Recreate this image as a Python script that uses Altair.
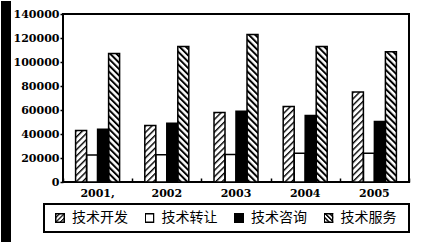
import base64
import altair as alt
import pandas as pd

# ---- data ----
years = ["2001,", "2002", "2003", "2004", "2005"]
series = ["技术开发", "技术转让", "技术咨询", "技术服务"]
dev = [43000, 47000, 58000, 63000, 75000]
transfer = [22500, 22700, 23000, 24000, 24000]
consult = [44000, 49000, 59000, 55500, 50500]
service = [107000, 113000, 123000, 113000, 108500]
y_ticks = [0, 20000, 40000, 60000, 80000, 100000, 120000, 140000]


def svg_uri(svg):
    return "data:image/svg+xml;base64," + base64.b64encode(svg.encode("utf-8")).decode("ascii")


def hatch_fill(angle, period, line_w, size=None, border=0.0):
    if size is None:
        w = h = "100%"
    else:
        w = h = str(size)
    border_rect = ""
    if border > 0 and size is not None:
        b = border / 2
        border_rect = (f'<rect x="{b}" y="{b}" width="{size - border}" height="{size - border}" '
                       f'fill="none" stroke="#000" stroke-width="{border}"/>')
    svg = (f'<svg xmlns="http://www.w3.org/2000/svg" width="{w}" height="{h}">'
           f'<defs><pattern id="h" patternUnits="userSpaceOnUse" width="{period}" height="{period}" '
           f'patternTransform="rotate({angle})">'
           f'<rect width="{period}" height="{period}" fill="#fff"/>'
           f'<rect width="{line_w}" height="{period}" fill="#000"/></pattern></defs>'
           f'<rect width="100%" height="100%" fill="url(#h)"/>{border_rect}</svg>')
    return svg_uri(svg)


def plain_square(fill, size, border):
    b = border / 2
    svg = (f'<svg xmlns="http://www.w3.org/2000/svg" width="{size}" height="{size}">'
           f'<rect x="{b}" y="{b}" width="{size - border}" height="{size - border}" '
           f'fill="{fill}" stroke="#000" stroke-width="{border}"/></svg>')
    return svg_uri(svg)


DEV_HATCH = hatch_fill(45, 4.5, 1.4)
SERV_HATCH = hatch_fill(-45, 4.5, 2.0)

rows = []
for i, yr in enumerate(years):
    for s, v in zip(series, [dev[i], transfer[i], consult[i], service[i]]):
        rows.append({"year": yr, "series": s, "value": v, "zero": 0,
                     "url": DEV_HATCH if s == "技术开发" else (SERV_HATCH if s == "技术服务" else "")})
df = pd.DataFrame(rows)

SERIF = "DejaVu Serif"
CJK = "Noto Sans CJK SC"

y_axis = alt.Axis(values=y_ticks, format="d", labelFont=SERIF, labelFontSize=11,
                  labelFontWeight="bold", labelColor="black",
                  tickColor="black", tickSize=3, tickWidth=1.5, domain=False, grid=False,
                  title=None, labelPadding=1)
y_enc = alt.Y("value:Q", scale=alt.Scale(domain=[0, 140000], nice=False, zero=True), axis=y_axis)
x_scale = alt.Scale(paddingInner=0, paddingOuter=0)
xo_enc = alt.XOffset("series:N", sort=series, scale=alt.Scale(range=[12.6, 56.6]))

base = alt.Chart(df)

fills = base.mark_bar(strokeWidth=0).encode(
    x=alt.X("year:N", sort=years, scale=x_scale,
            axis=alt.Axis(orient="bottom", labelFont=SERIF, labelFontSize=11, labelFontWeight="bold",
                          labelColor="black", labelAngle=0, ticks=False, domain=False, grid=False,
                          title=None, labelPadding=5)),
    xOffset=xo_enc,
    y=y_enc,
    color=alt.Color("series:N", scale=alt.Scale(domain=series, range=["white", "white", "black", "white"]),
                    legend=None),
)

hatches = base.transform_filter(
    alt.FieldOneOfPredicate(field="series", oneOf=["技术开发", "技术服务"])
).mark_image(aspect=False).encode(
    x=alt.X("year:N", sort=years, scale=x_scale, axis=None),
    xOffset=xo_enc,
    y=y_enc,
    y2="zero:Q",
    url="url:N",
)

outlines = base.mark_bar(fillOpacity=0, stroke="black", strokeWidth=1.5).encode(
    x=alt.X("year:N", sort=years, scale=x_scale,
            axis=alt.Axis(orient="top", offset=-168, labels=False, domain=False, grid=False,
                          ticks=True, tickBand="extent", tickSize=4, tickWidth=1.5,
                          tickColor="black", title=None)),
    xOffset=xo_enc,
    y=y_enc,
)

# dark scanned edge on the left of the picture (decoration, exact rectangle)
strip = alt.Chart(pd.DataFrame({"k": [0]})).mark_rect(color="black", strokeWidth=0).encode(
    x=alt.value(-62), x2=alt.value(-52), y=alt.value(-13), y2=alt.value(229)
)

main = alt.layer(fills, hatches, outlines, strip).resolve_axis(x="independent").properties(
    width=346, height=168
)

# ---- legend drawn as its own small view ----
leg_df = pd.DataFrame({
    "name": series,
    "i": [0, 1, 2, 3],
    "url": [hatch_fill(45, 3.2, 1.2, size=10, border=1.5), plain_square("#fff", 10, 1.5),
            plain_square("#000", 10, 1.5), hatch_fill(-45, 3.2, 1.5, size=10, border=1.5)],
})
leg_x = alt.X("i:Q", scale=alt.Scale(domain=[0, 3], range=[-3, 265.5]), axis=None)
leg_base = alt.Chart(leg_df)
leg_box = alt.Chart(pd.DataFrame({"k": [0]})).mark_rect(
    fillOpacity=0, stroke="black", strokeWidth=2
).encode(x=alt.value(-19), x2=alt.value(346), y=alt.value(0), y2=alt.value(28))
leg_sym = leg_base.mark_image(width=10, height=10).encode(x=leg_x, y=alt.value(14), url="url:N")
leg_txt = leg_base.mark_text(align="left", baseline="middle", dx=12, font=CJK, fontSize=14,
                             color="black").encode(x=leg_x, y=alt.value(14), text="name:N")
legend = alt.layer(leg_box, leg_sym, leg_txt).properties(
    width=346, height=28, view=alt.ViewBackground(stroke="transparent")
)

chart = alt.vconcat(main, legend, spacing=22, bounds="flush").properties(
    padding=0, background="white"
).configure_view(stroke="black", strokeWidth=2)

chart.save("out.html", embed_options={"renderer": "svg", "actions": False})
